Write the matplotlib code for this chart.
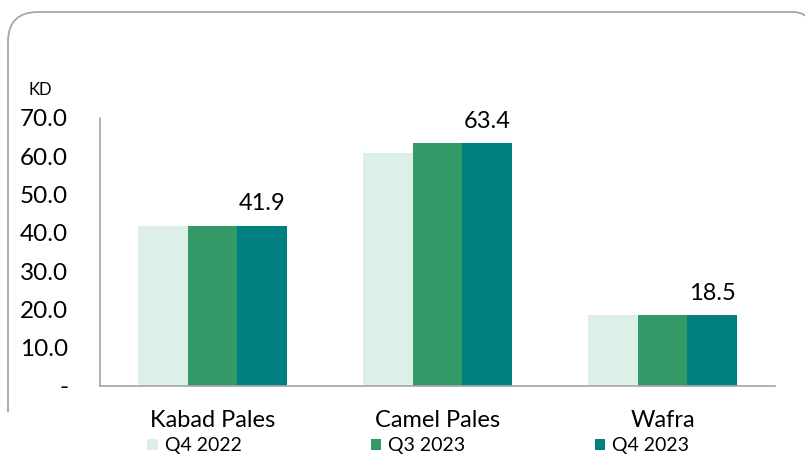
import numpy as np
import matplotlib.pyplot as plt
from matplotlib.path import Path
from matplotlib.patches import PathPatch

categories = ["Kabad Pales", "Camel Pales", "Wafra"]
series = ["Q4 2022", "Q3 2023", "Q4 2023"]
q4_2022 = [41.8, 60.8, 18.5]
q3_2023 = [41.9, 63.4, 18.5]
q4_2023 = [41.9, 63.4, 18.5]
colors = ["#DDF0E8", "#339966", "#008080"]
yticks = [0, 10, 20, 30, 40, 50, 60, 70]

plt.rcParams['font.family'] = ['Lato', 'DejaVu Sans']

W, H = 805, 455
fig = plt.figure(figsize=(W / 100, H / 100), dpi=100)
ax = fig.add_axes([100 / W, (H - 386) / H, 675 / W, 268 / H])

x = np.arange(len(categories))
bw = 0.222
for i, (vals, name) in enumerate(zip([q4_2022, q3_2023, q4_2023], series)):
    ax.bar(x + (i - 1) * bw, vals, bw, color=colors[i], label=name)

# labels on the last series only
for xi, v in zip(x, q4_2023):
    ax.annotate(f"{v:.1f}", (xi + bw, v), xytext=(0, 8), textcoords="offset points",
                ha="center", va="bottom", fontsize=17)

ax.set_xlim(-0.5, 2.5)
ax.set_ylim(0, 70)
ax.set_yticks(yticks)
ax.set_yticklabels(["-" if t == 0 else f"{t:.1f}" for t in yticks], fontsize=17.5)
ax.set_xticks(x)
ax.set_xticklabels(categories, fontsize=17)
ax.tick_params(axis="y", length=0, pad=23)
ax.tick_params(axis="x", length=0, pad=17)
for s in ["top", "right"]:
    ax.spines[s].set_visible(False)
for s in ["left", "bottom"]:
    ax.spines[s].set_color("#A6A6A6")
    ax.spines[s].set_linewidth(1.2)

fig.text(28 / W, 1 - 90 / H, "KD", fontsize=12, va="center", ha="left")

fig.legend(loc="center left", bbox_to_anchor=(147 / W, 1 - 446 / H), ncol=3,
           frameon=False, fontsize=14, handlelength=0.55, handleheight=0.55,
           handletextpad=0.35, columnspacing=6.65, borderpad=0, borderaxespad=0)

# rounded frame, cut off by the picture edges
r = 30
verts = [(8, 412), (8, 12 + r), (8, 12), (8 + r, 12), (793, 12), (805, 12), (812, 22)]
codes = [Path.MOVETO, Path.LINETO, Path.CURVE3, Path.CURVE3, Path.LINETO, Path.CURVE3, Path.CURVE3]
verts = [(vx / W, 1 - vy / H) for vx, vy in verts]
fig.patches.append(PathPatch(Path(verts, codes), transform=fig.transFigure,
                             fill=False, edgecolor="#A6A6A6", lw=1.3))

fig.savefig("out.png", dpi=100)
